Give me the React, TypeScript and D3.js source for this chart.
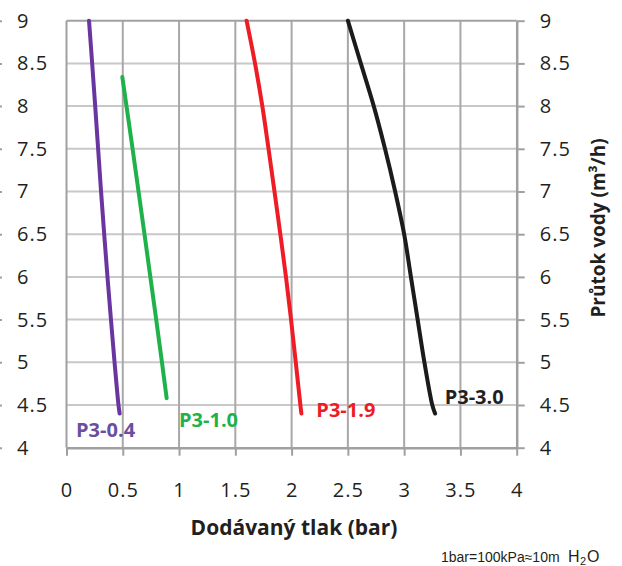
import React, { useEffect, useRef } from 'react';
import * as d3 from 'd3';

// pressure (bar) on x, flow (m3/h) on y
const xTicks = [0, 0.5, 1, 1.5, 2, 2.5, 3, 3.5, 4];
const yTicks = [4, 4.5, 5, 5.5, 6, 6.5, 7, 7.5, 8, 8.5, 9];

const flowP04 = [9, 8.5, 8, 7.5, 7, 6.5, 6, 5.5, 5, 4.5, 4.4];
const pressP04 = [0.2, 0.228, 0.255, 0.281, 0.307, 0.335, 0.364, 0.395, 0.427, 0.462, 0.472];

const flowP10 = [8.34, 8, 7.5, 7, 6.5, 6, 5.5, 5, 4.58];
const pressP10 = [0.496, 0.533, 0.587, 0.64, 0.693, 0.745, 0.797, 0.848, 0.89];

const flowP19 = [9, 8.5, 8, 7.5, 7, 6.5, 6, 5.5, 5, 4.5, 4.4];
const pressP19 = [1.6, 1.675, 1.74, 1.795, 1.848, 1.9, 1.95, 1.995, 2.037, 2.078, 2.087];

const flowP30 = [9, 8.5, 8, 7.5, 7, 6.5, 6, 5.5, 5, 4.5, 4.4];
const pressP30 = [2.5, 2.615, 2.73, 2.83, 2.92, 3.0, 3.06, 3.12, 3.18, 3.25, 3.275];

const seriesNames = ['P3-0.4', 'P3-1.0', 'P3-1.9', 'P3-3.0'];
// label anchor (bar, m3/h) for each series name
const labelPress = [0.085, 1.0, 2.22, 3.36];
const labelFlow = [4.125, 4.24, 4.36, 4.51];

const lineColors = ['#6936a0', '#1fb24a', '#ee1c25', '#1c1a1b'];
const labelColors = ['#6a4f9f', '#1fb24a', '#ee1c25', '#231f20'];

export default function App() {
  const ref = useRef<SVGSVGElement>(null);

  useEffect(() => {
    const svg = d3.select(ref.current);
    svg.selectAll('*').remove();

    const x = d3.scaleLinear().domain([0, 4]).range([66.5, 516.7]);
    const y = d3.scaleLinear().domain([4, 9]).range([447.7, 20.7]);

    const font = '"Open Sans", sans-serif';

    // grid
    svg.append('g')
      .selectAll('line')
      .data(yTicks.filter(d => d > 4 && d < 9))
      .enter().append('line')
      .attr('x1', x(0)).attr('x2', x(4))
      .attr('y1', d => y(d)).attr('y2', d => y(d))
      .attr('stroke', '#c8c8c8').attr('stroke-width', 2);

    svg.append('g')
      .selectAll('line')
      .data(xTicks.filter(d => d > 0 && d < 4))
      .enter().append('line')
      .attr('x1', d => x(d)).attr('x2', d => x(d))
      .attr('y1', y(4)).attr('y2', y(9))
      .attr('stroke', '#a8a8a8').attr('stroke-width', 2);

    // top border + left line
    svg.append('line')
      .attr('x1', x(0)).attr('x2', x(4)).attr('y1', y(9)).attr('y2', y(9))
      .attr('stroke', '#a0a0a0').attr('stroke-width', 2);
    svg.append('line')
      .attr('x1', x(0)).attr('x2', x(0)).attr('y1', y(9)).attr('y2', y(4))
      .attr('stroke', '#a0a0a0').attr('stroke-width', 2);

    const fmt = (d: any) => String(d);

    // left labels (axis cut off at the page edge)
    const left = svg.append('g')
      .call(d3.axisRight(y).tickValues(yTicks).tickFormat(fmt).tickSize(2).tickPadding(15));
    left.select('.domain').remove();

    // right axis
    const right = svg.append('g')
      .attr('transform', `translate(${x(4)},0)`)
      .call(d3.axisRight(y).tickValues(yTicks).tickFormat(fmt).tickSize(8).tickSizeOuter(0).tickPadding(15));

    // bottom axis
    const bottom = svg.append('g')
      .attr('transform', `translate(0,${y(4)})`)
      .call(d3.axisBottom(x).tickValues(xTicks).tickFormat(fmt).tickSize(8).tickSizeOuter(0).tickPadding(27));

    [left, right, bottom].forEach(g => {
      g.selectAll('.domain').attr('stroke', '#a0a0a0').attr('stroke-width', 2.5);
      g.selectAll('.tick line').attr('stroke', '#a0a0a0').attr('stroke-width', 2);
      g.selectAll('.tick text')
        .attr('fill', '#231f20')
        .style('font-family', font)
        .style('font-size', '20px')
        .style('letter-spacing', '1px');
    });

    // curves
    const allFlow = [flowP04, flowP10, flowP19, flowP30];
    const allPress = [pressP04, pressP10, pressP19, pressP30];

    allFlow.forEach((flow, i) => {
      const pts: [number, number][] = flow.map((f, j) => [x(allPress[i][j]), y(f)]);
      svg.append('path')
        .attr('d', d3.line().curve(d3.curveCatmullRom)(pts))
        .attr('fill', 'none')
        .attr('stroke', lineColors[i])
        .attr('stroke-width', 4)
        .attr('stroke-linecap', 'round');
    });

    // series labels
    svg.append('g')
      .selectAll('text')
      .data(seriesNames)
      .enter().append('text')
      .attr('x', (d, i) => x(labelPress[i]))
      .attr('y', (d, i) => y(labelFlow[i]))
      .attr('fill', (d, i) => labelColors[i])
      .style('font-family', font)
      .style('font-weight', 700)
      .style('font-size', '20px')
      .text(d => d);

    // axis titles
    svg.append('text')
      .attr('x', 294).attr('y', 535)
      .attr('text-anchor', 'middle')
      .attr('fill', '#231f20')
      .style('font-family', font)
      .style('font-weight', 700)
      .style('font-size', '21px')
      .text('Dodávaný tlak (bar)');

    svg.append('text')
      .attr('transform', 'translate(605,228) rotate(-90)')
      .attr('text-anchor', 'middle')
      .attr('fill', '#231f20')
      .style('font-family', font)
      .style('font-weight', 700)
      .style('font-size', '19px')
      .text('Průtok vody (m³/h)');

    // footnote
    const note = svg.append('text')
      .attr('x', 441).attr('y', 562)
      .attr('fill', '#231f20')
      .style('font-family', '"Liberation Sans", Arial, sans-serif')
      .style('font-size', '14px');
    note.append('tspan').text('1bar=100kPa≈10m');
    note.append('tspan').attr('x', 568).style('font-size', '16px').text('H');
    note.append('tspan').attr('x', 580).attr('dy', 3).style('font-size', '11px').text('2');
    note.append('tspan').attr('x', 587).attr('dy', -3).style('font-size', '16px').text('O');
  }, []);

  return (
    <svg
      ref={ref}
      width={622}
      height={566}
      style={{ position: 'absolute', left: 0, top: 0, background: '#fff' }}
    />
  );
}
